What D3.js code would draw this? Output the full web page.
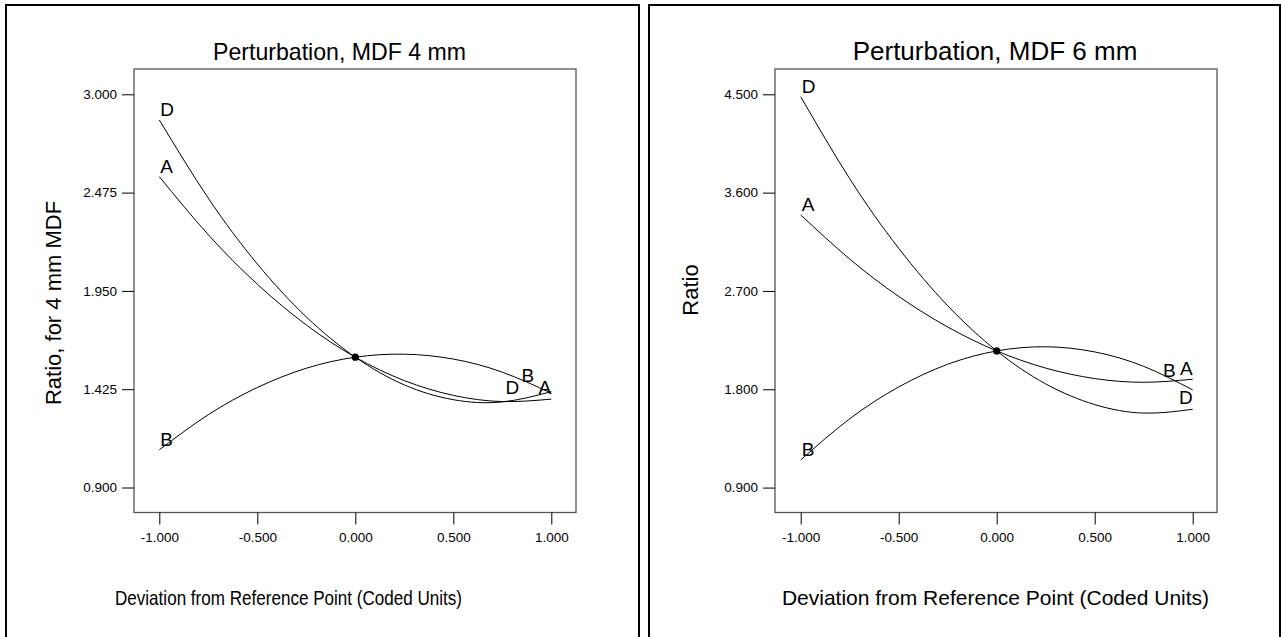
<!DOCTYPE html>
<html>
<head>
<meta charset="utf-8">
<script src="https://cdn.jsdelivr.net/npm/d3@7"></script>
<style>
  body { margin: 0; background: #fff; }
  svg { display: block; font-family: "Liberation Sans", Arial, sans-serif; }
  .frame { fill: none; stroke: #555; stroke-width: 1.3; }
  .panel { fill: none; stroke: #000; stroke-width: 2; }
  .axis text { font-size: 13.5px; fill: #000; font-family: "Liberation Sans", Arial, sans-serif; }
  .axis line { stroke: #000; stroke-width: 1; }
  .curve { fill: none; stroke: #000; stroke-width: 1; }
  .series-label { font-size: 19px; fill: #000; }
</style>
</head>
<body>
<svg id="chart"></svg>
<script>
// coded factor levels
var X_LEVELS = [-1, -0.75, -0.5, -0.25, 0, 0.25, 0.5, 0.75, 1];
var X_TICKS = [-1, -0.5, 0, 0.5, 1];

// MDF 4 mm
var A_4MM = [2.560, 2.250, 1.986, 1.768, 1.596, 1.471, 1.392, 1.359, 1.372];
var B_4MM = [1.101, 1.289, 1.434, 1.537, 1.596, 1.612, 1.586, 1.516, 1.404];
var D_4MM = [2.863, 2.445, 2.094, 1.811, 1.596, 1.448, 1.369, 1.357, 1.412];
var CENTER_4MM = 1.596;
var Y_TICKS_4MM = [0.900, 1.425, 1.950, 2.475, 3.000];

// MDF 6 mm
var A_6MM = [3.396, 2.992, 2.650, 2.370, 2.151, 1.994, 1.898, 1.864, 1.892];
var B_6MM = [1.153, 1.530, 1.821, 2.029, 2.151, 2.189, 2.142, 2.010, 1.794];
var D_6MM = [4.478, 3.728, 3.090, 2.565, 2.151, 1.849, 1.660, 1.582, 1.617];
var CENTER_6MM = 2.151;
var Y_TICKS_6MM = [0.900, 1.800, 2.700, 3.600, 4.500];

var SERIES_NAMES = ["A", "B", "D"];

(function () {
    var W = 1281, H = 637;
    var svg = d3.select("#chart").attr("width", W).attr("height", H);

    // plain hyphen for negatives, like the original software
    var fmt3 = d3.formatLocale({ decimal: ".", thousands: ",", grouping: [3], currency: ["", ""], minus: "-" }).format(".3f");

    // nudges for the end labels so they don't sit on top of each other
    var NUDGE_4MM = { A: [0, -5], B: [-17, -11], D: [-32, 2] };
    var NUDGE_6MM = { A: [0, -4], B: [-17, -13], D: [0, -5] };

    var panels = [
        {
            box: [6, 5, 633, 640],
            frame: [134, 69, 576, 512.5],
            xRange: [159.3, 551.3],
            yRange: [487.5, 94.3],
            ticks: Y_TICKS_4MM,
            series: { A: A_4MM, B: B_4MM, D: D_4MM },
            center: CENTER_4MM,
            nudge: NUDGE_4MM,
            title: "Perturbation, MDF 4 mm",
            titleAt: { x: 213, anchor: "start", size: 24, length: 253 },
            xLabelAt: { x: 115, anchor: "start", length: 347 },
            yLabel: "Ratio, for 4 mm MDF",
            yLabelAt: { x: 61, y: 303 }
        },
        {
            box: [649, 5, 631, 640],
            frame: [775, 69, 1217, 512.5],
            xRange: [800.7, 1192.7],
            yRange: [487.6, 94.3],
            ticks: Y_TICKS_6MM,
            series: { A: A_6MM, B: B_6MM, D: D_6MM },
            center: CENTER_6MM,
            nudge: NUDGE_6MM,
            title: "Perturbation, MDF 6 mm",
            titleAt: { x: 995, anchor: "middle", size: 26 },
            xLabelAt: { x: 995.5, anchor: "middle" },
            yLabel: "Ratio",
            yLabelAt: { x: 698, y: 290 }
        }
    ];

    function drawPanel(p) {
        var g = svg.append("g");
        g.append("rect").attr("class", "panel")
            .attr("x", p.box[0]).attr("y", p.box[1])
            .attr("width", p.box[2]).attr("height", p.box[3]);

        var x = d3.scaleLinear().domain([-1, 1]).range(p.xRange);
        var y = d3.scaleLinear().domain([p.ticks[0], p.ticks[p.ticks.length - 1]]).range(p.yRange);

        g.append("rect").attr("class", "frame")
            .attr("x", p.frame[0]).attr("y", p.frame[1])
            .attr("width", p.frame[2] - p.frame[0]).attr("height", p.frame[3] - p.frame[1]);

        var yAxis = d3.axisLeft(y).tickValues(p.ticks).tickSize(12).tickPadding(5).tickFormat(fmt3);
        g.append("g").attr("class", "axis")
            .attr("transform", "translate(" + p.frame[0] + ",0)")
            .call(yAxis)
            .call(function (a) { a.select(".domain").remove(); });

        var xAxis = d3.axisBottom(x).tickValues(X_TICKS).tickSize(12).tickPadding(8).tickFormat(fmt3);
        g.append("g").attr("class", "axis")
            .attr("transform", "translate(0," + p.frame[3] + ")")
            .call(xAxis)
            .call(function (a) { a.select(".domain").remove(); });

        var line = d3.line()
            .x(function (d) { return x(d[0]); })
            .y(function (d) { return y(d[1]); })
            .curve(d3.curveNatural);

        SERIES_NAMES.forEach(function (name) {
            var vals = p.series[name];
            var pts = X_LEVELS.map(function (lv, i) { return [lv, vals[i]]; });
            g.append("path").datum(pts).attr("class", "curve").attr("d", line);

            // label at the start of the curve
            g.append("text").attr("class", "series-label")
                .attr("x", x(X_LEVELS[0]) + 1)
                .attr("y", y(vals[0]) - 4)
                .text(name);

            // label at the end of the curve
            var n = p.nudge[name];
            g.append("text").attr("class", "series-label")
                .attr("text-anchor", "end")
                .attr("x", x(X_LEVELS[X_LEVELS.length - 1]) + n[0])
                .attr("y", y(vals[vals.length - 1]) + n[1])
                .text(name);
        });

        g.append("circle")
            .attr("cx", x(0)).attr("cy", y(p.center)).attr("r", 3.6)
            .attr("fill", "#000");

        var t = g.append("text")
            .attr("x", p.titleAt.x).attr("y", 60)
            .attr("text-anchor", p.titleAt.anchor)
            .style("font-size", p.titleAt.size + "px")
            .text(p.title);
        if (p.titleAt.length) t.attr("textLength", p.titleAt.length).attr("lengthAdjust", "spacingAndGlyphs");

        var xl = g.append("text")
            .attr("x", p.xLabelAt.x).attr("y", 605)
            .attr("text-anchor", p.xLabelAt.anchor)
            .style("font-size", "21px")
            .text("Deviation from Reference Point (Coded Units)");
        if (p.xLabelAt.length) xl.attr("textLength", p.xLabelAt.length).attr("lengthAdjust", "spacingAndGlyphs");

        g.append("text")
            .attr("transform", "translate(" + p.yLabelAt.x + "," + p.yLabelAt.y + ") rotate(-90)")
            .attr("text-anchor", "middle")
            .style("font-size", "22px")
            .text(p.yLabel);
    }

    panels.forEach(drawPanel);
}());
</script>
</body>
</html>
